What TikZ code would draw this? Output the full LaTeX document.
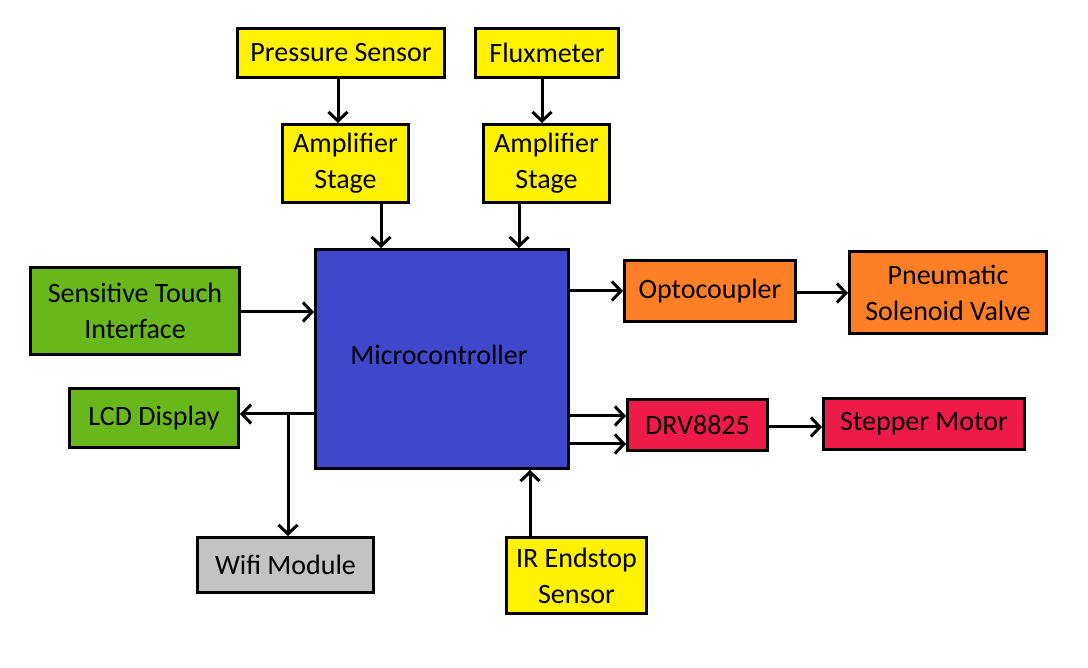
\documentclass[tikz,border=0pt]{standalone}
\usepackage{fontspec}
\setmainfont{Carlito}
\usetikzlibrary{arrows.meta}

\definecolor{sensyellow}{HTML}{FFF200}
\definecolor{uigreen}{HTML}{68B81C}
\definecolor{mcublue}{HTML}{3F48CC}
\definecolor{valveorange}{HTML}{FF7F27}
\definecolor{motorred}{HTML}{F01A48}
\definecolor{wifigray}{HTML}{C3C3C3}

\begin{document}
\begin{tikzpicture}[x=1pt, y=-1pt, line join=miter, >={Straight Barb[length=9pt,width=19pt]},
		blk/.style={draw, line width=3pt, inner sep=0pt, align=center, font=\fontsize{28}{36}\selectfont},
		conn/.style={->, line width=3pt}]
			\useasboundingbox[fill=white] (0,0) rectangle (1088,668);
			% sensors on top
			\node[blk, fill=sensyellow, minimum width=207pt, minimum height=49pt] (pres) at (341,53) {Pressure Sensor};
			\node[blk, fill=sensyellow, minimum width=143pt, minimum height=49pt] (flux) at (547,53) {Fluxmeter};
			\node[blk, fill=sensyellow, minimum width=126pt, minimum height=78pt] (ampA) at (345.5,163.5) {Amplifier\\Stage};
			\node[blk, fill=sensyellow, minimum width=126pt, minimum height=78pt] (ampB) at (546.5,163.5) {Amplifier\\Stage};
			% controller
			\node[blk, fill=mcublue, minimum width=253pt, minimum height=219pt] (mcu) at (442,359) {};
			\node[font=\fontsize{28}{36}\selectfont] (mcutxt) at (439,355) {Microcontroller};
			% user side
			\node[blk, fill=uigreen, minimum width=209pt, minimum height=87pt] (touch) at (135,311) {Sensitive Touch\\Interface};
			\node[blk, fill=uigreen, minimum width=169pt, minimum height=59pt] (lcd) at (154,418) {LCD Display};
			\node[blk, fill=wifigray, minimum width=176pt, minimum height=55pt] (wifi) at (285.5,565) {Wifi Module};
			\node[blk, fill=sensyellow, minimum width=140pt, minimum height=76pt] (ir) at (576.5,575.5) {IR Endstop\\Sensor};
			% actuators
			\node[blk, fill=valveorange, minimum width=171pt, minimum height=61pt] (opto) at (710,291) {Optocoupler};
			\node[blk, fill=valveorange, minimum width=197pt, minimum height=82pt] (pneu) at (948,292.5) {Pneumatic\\Solenoid Valve};
			\node[blk, fill=motorred, minimum width=140pt, minimum height=51pt] (drv) at (697.5,425) {DRV8825};
			\node[blk, fill=motorred, minimum width=201pt, minimum height=51pt] (step) at (924,424) {Stepper Motor};
			% connections
			\draw[conn] ([xshift=-3pt]pres.south) -- ([xshift=-3pt]pres.south |- ampA.north);
			\draw[conn] ([xshift=-5pt]flux.south) -- ([xshift=-5pt]flux.south |- ampB.north);
			\draw[conn] ([xshift=35.5pt]ampA.south) -- ([xshift=35.5pt]ampA.south |- mcu.north);
			\draw[conn] ([xshift=-27.5pt]ampB.south) -- ([xshift=-27.5pt]ampB.south |- mcu.north);
			\draw[conn] ([yshift=-1pt]touch.east) -- ([yshift=-1pt]touch.east -| mcu.west);
			\draw[conn] (mcu.east |- opto.west) -- (opto.west);
			\draw[conn] ([yshift=-2pt]opto.east) -- ([yshift=-2pt]opto.east -| pneu.west);
			\coordinate (drvinA) at ([yshift=9pt]drv.west);
			\coordinate (drvinB) at ([yshift=-19pt]drv.west);
			\draw[conn] (mcu.east |- drvinA) -- (drvinA);
			\draw[conn] (mcu.east |- drvinB) -- (drvinB);
			\draw[conn] ([yshift=-2pt]drv.east) -- ([yshift=-2pt]drv.east -| step.west);
			\coordinate (lcdin) at ([yshift=4pt]lcd.east);
			\coordinate (br) at ([xshift=2.5pt]wifi.north |- lcdin);
			\draw[conn] (mcu.west |- lcdin) -- (lcdin);
			\draw[conn] (br) -- (br |- wifi.north);
			\draw[conn] ([xshift=-46.5pt]ir.north) -- ([xshift=-46.5pt]ir.north |- mcu.south);
		\end{tikzpicture}
\end{document}
